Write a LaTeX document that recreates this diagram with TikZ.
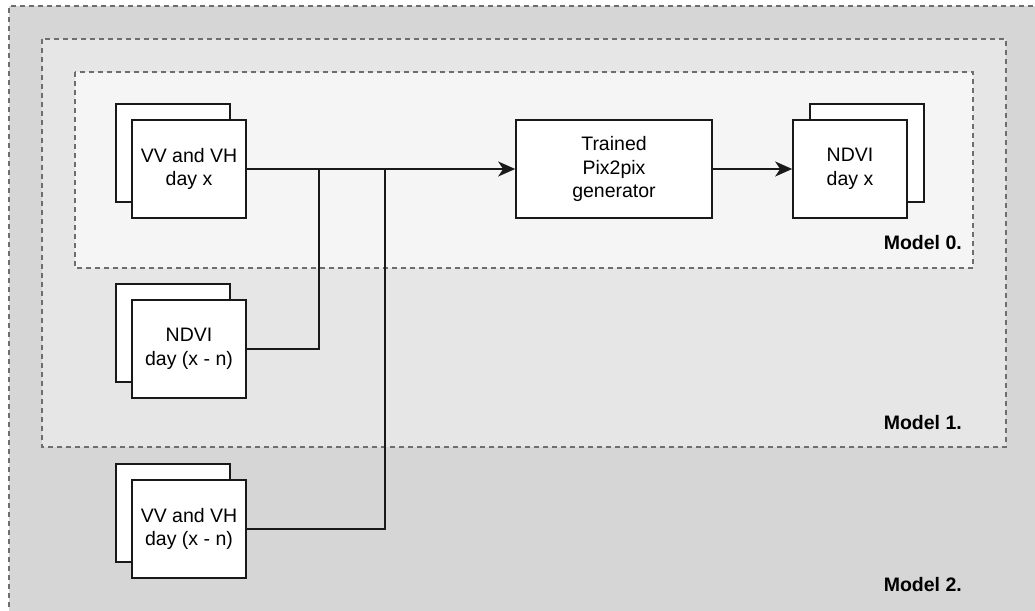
\documentclass[tikz,border=0pt]{standalone}
\usepackage{fontspec}
\setmainfont{Liberation Sans}
\usetikzlibrary{arrows.meta}
\definecolor{zoneA}{HTML}{D6D6D6}
\definecolor{zoneB}{HTML}{E6E6E6}
\definecolor{zoneC}{HTML}{F5F5F5}
\definecolor{dashgray}{HTML}{6E6E6E}
\tikzset{
  zone/.style={draw=dashgray, line width=1.3pt, dash pattern=on 5pt off 4pt},
  card/.style={draw=black!90, fill=white, line width=1.7pt, minimum width=114pt,
    minimum height=98pt, inner sep=0pt, align=center,
    font=\fontsize{19.5}{23.4}\selectfont},
  genbox/.style={card, minimum width=196pt},
  tag/.style={anchor=east, inner sep=0pt, font=\fontsize{19.5}{23.4}\selectfont\bfseries},
  link/.style={draw=black!90, line width=1.7pt},
  flow/.style={link, -{Stealth[length=17pt, width=15pt, inset=5pt]}}
}
\begin{document}
\begin{tikzpicture}[x=1pt, y=-1pt]
\useasboundingbox (0,0) rectangle (1035,610);
\begin{scope}
\clip (0,0) rectangle (1035,610);
% nested model regions
\fill[zoneA] (9,6) rectangle (1050,625);
\draw[zone] (9,625) -- (9,6) -- (1050,6);
\draw[zone, fill=zoneB] (42,39) rectangle (1006,447);
\draw[zone, fill=zoneC] (75,72) rectangle (973,268);
\end{scope}

% region labels
\node[tag] (m0) at (962,243) {Model 0.};
\node[tag] (m1) at (962,423) {Model 1.};
\node[tag] (m2) at (962,585) {Model 2.};

% stacked input cards
\node[card] (vvxb) at (173,153) {};
\node[card] (vvx) at (189,169) {VV and VH\\day x};
\node[card] (ndvinb) at (173,333) {};
\node[card] (ndvin) at (189,349) {NDVI\\day (x - n)};
\node[card] (vvnb) at (173,513) {};
\node[card] (vvn) at (189,529) {VV and VH\\day (x - n)};

% generator and output
\node[genbox] (gen) at (614,169) {Trained\\Pix2pix\\generator};
\node[card] (outb) at (867,153) {};
\node[card] (out) at (850,169) {NDVI\\day x};

% junctions on the main input line
\coordinate (j1) at (319,169);
\coordinate (j2) at (385,169);

\draw[flow] (vvx.east) -- (gen.west);
\draw[link] (ndvin.east) -| (j1);
\draw[link] (vvn.east) -| (j2);
\draw[flow] (gen.east) -- (out.west);
\end{tikzpicture}
\end{document}
